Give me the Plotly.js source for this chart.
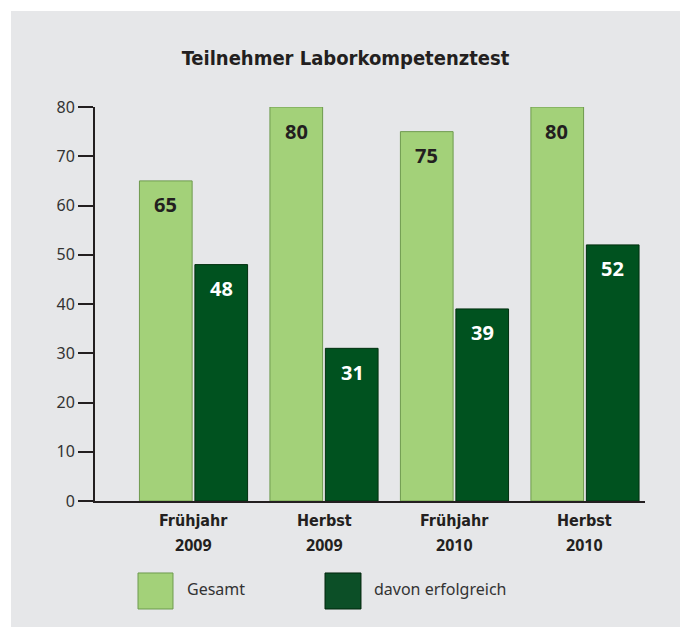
<!DOCTYPE html>
<html>
<head>
<meta charset="utf-8">
<script src="https://cdn.plot.ly/plotly-3.0.1.min.js"></script>
<style>
  html, body { margin: 0; padding: 0; background: #ffffff; }
  #chart { position: absolute; left: 11px; top: 11px; width: 669px; height: 616px; }
</style>
</head>
<body>
<div id="chart"></div>
<script>
// ---- data ----
const categories = ['Frühjahr 2009', 'Herbst 2009', 'Frühjahr 2010', 'Herbst 2010'];
const seasonLabels = ['Frühjahr', 'Herbst', 'Frühjahr', 'Herbst'];
const yearLabels = ['2009', '2009', '2010', '2010'];
const seriesNames = ['Gesamt', 'davon erfolgreich'];
const gesamt = [65, 80, 75, 80];
const erfolgreich = [48, 31, 39, 52];
const yTicks = [0, 10, 20, 30, 40, 50, 60, 70, 80];
const chartTitle = 'Teilnehmer Laborkompetenztest';

// ---- styles ----
const lightGreen = '#a3d179';
const darkGreen = '#00521f';
const textDark = '#231f20';
const bodyFont = '"Noto Sans", "Open Sans", sans-serif';
const condFont = '"Liberation Sans Narrow", "DejaVu Sans Condensed", sans-serif';

const traces = [
  {
    type: 'bar', x: categories, y: gesamt, name: seriesNames[0],
    marker: { color: lightGreen, line: { color: '#6e9a4e', width: 1 } },
    hoverinfo: 'skip'
  },
  {
    type: 'bar', x: categories, y: erfolgreich, name: seriesNames[1],
    marker: { color: darkGreen, line: { color: '#00300f', width: 1 } },
    hoverinfo: 'skip'
  }
];

const annotations = [];
// value labels inside the bars
categories.forEach((c, i) => {
  annotations.push({
    x: c, y: gesamt[i], xref: 'x', yref: 'y', xshift: -28, yshift: -24,
    text: '<b>' + gesamt[i] + '</b>', showarrow: false, yanchor: 'middle',
    font: { family: bodyFont, size: 20, color: textDark }
  });
  annotations.push({
    x: c, y: erfolgreich[i], xref: 'x', yref: 'y', xshift: 28, yshift: -24,
    text: '<b>' + erfolgreich[i] + '</b>', showarrow: false, yanchor: 'middle',
    font: { family: bodyFont, size: 20, color: '#ffffff' }
  });
  // category labels (two lines)
  annotations.push({
    x: c, y: 0, xref: 'x', yref: 'y', yshift: -19,
    text: '<b>' + seasonLabels[i] + '</b>', showarrow: false, yanchor: 'middle',
    font: { family: condFont, size: 16, color: textDark }
  });
  annotations.push({
    x: c, y: 0, xref: 'x', yref: 'y', yshift: -44,
    text: '<b>' + yearLabels[i] + '</b>', showarrow: false, yanchor: 'middle',
    font: { family: bodyFont, size: 16, color: textDark }
  });
});

// legend (drawn manually for large swatches)
const legendColors = [lightGreen, '#0c4f27'];
const legendEdges = ['#6e9a4e', '#00250b'];
const legendBoxX = [[0.0782, 0.1418], [0.4182, 0.4836]];
const legendTextX = [0.1636, 0.5036];
const shapes = [];
seriesNames.forEach((n, i) => {
  shapes.push({
    type: 'rect', xref: 'paper', yref: 'paper',
    x0: legendBoxX[i][0], x1: legendBoxX[i][1], y0: -0.1827, y1: -0.2741,
    fillcolor: legendColors[i], line: { color: legendEdges[i], width: 1 }
  });
  annotations.push({
    x: legendTextX[i], y: -0.2234, xref: 'paper', yref: 'paper',
    xanchor: 'left', yanchor: 'middle', showarrow: false, text: n,
    font: { family: bodyFont, size: 16, color: '#333333' }
  });
});

const layout = {
  width: 669, height: 616,
  margin: { l: 84, r: 35, t: 96, b: 126 },
  paper_bgcolor: '#e6e7e9',
  plot_bgcolor: '#e6e7e9',
  title: {
    text: '<b>' + chartTitle + '</b>',
    font: { family: condFont, size: 20, color: textDark },
    x: 0.5, xanchor: 'center', xref: 'container',
    y: 1 - 47 / 616, yanchor: 'middle', yref: 'container'
  },
  barmode: 'group',
  bargap: 0.15,
  bargroupgap: 0.05,
  showlegend: false,
  xaxis: {
    type: 'category', range: [-0.755, 3.46],
    showticklabels: false, ticks: '', showgrid: false, zeroline: false,
    showline: true, linecolor: textDark, linewidth: 2, fixedrange: true
  },
  yaxis: {
    range: [0, 80], tickvals: yTicks, ticktext: yTicks.map(String),
    ticks: 'outside', ticklen: 15, tickwidth: 2, tickcolor: textDark,
    showgrid: false, zeroline: false,
    showline: true, linecolor: textDark, linewidth: 2,
    tickfont: { family: bodyFont, size: 16, color: '#333333' },
    fixedrange: true
  },
  annotations: annotations,
  shapes: shapes
};

Plotly.newPlot('chart', traces, layout, { displayModeBar: false, staticPlot: true });
</script>
</body>
</html>
